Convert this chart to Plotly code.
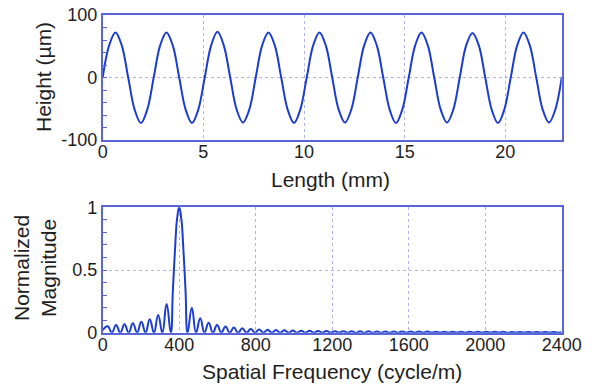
import plotly.graph_objects as go
from plotly.subplots import make_subplots

# ---------------- data ----------------
length_step_mm = 0.3167
height_um = [
    0, 51, 72, 51, 0, -51, -73, -51,
    0, 51, 72, 51, 0, -51, -73, -51,
    0, 51, 73, 51, 0, -51, -72, -51,
    0, 51, 72, 51, 0, -51, -73, -51,
    0, 51, 72, 51, 0, -51, -72, -51,
    0, 51, 72, 51, 0, -51, -73, -51,
    0, 51, 72, 51, 0, -51, -72, -51,
    0, 51, 71, 51, 0, -51, -73, -51,
    0, 51, 72, 51, 0, -51, -72, -51,
    0,
]
length_mm = [i * length_step_mm for i in range(len(height_um))]

# Bottom panel: normalized magnitude spectrum (lobe peaks and zeros)
freq_cpm = [
    0, 26, 48, 70, 92, 114, 136, 158, 180, 202, 224, 246, 268, 290, 312, 334, 356,
    367, 378, 389, 400, 411, 422, 433, 444,
    466, 488, 510, 532, 554, 576, 598, 620, 642, 664, 686, 708, 730, 752, 774, 796,
    818, 840, 862, 884, 906, 928, 950, 972, 994, 1016, 1038, 1060, 1082, 1104, 1126,
    1148, 1170, 1192, 1214, 1236, 1258, 1280, 1302, 1324, 1346, 1368, 1390, 1412,
    1434, 1456, 1478, 1500, 1522, 1544, 1566, 1588, 1610, 1632, 1654, 1676, 1698,
    1720, 1742, 1764, 1786, 1808, 1830, 1852, 1874, 1896, 1918, 1940, 1962, 1984,
    2006, 2028, 2050, 2072, 2094, 2116, 2138, 2160, 2182, 2204, 2226, 2248, 2270,
    2292, 2314, 2336, 2358, 2380, 2400,
]
magnitude = [
    0.02, 0.052, 0, 0.062, 0, 0.068, 0, 0.076, 0, 0.088, 0, 0.108, 0, 0.142, 0, 0.228, 0,
    0.34, 0.66, 0.91, 1.0, 0.91, 0.66, 0.34, 0,
    0.198, 0, 0.115, 0, 0.08, 0, 0.062, 0, 0.05, 0, 0.041, 0, 0.035, 0, 0.03, 0,
    0.026, 0, 0.023, 0, 0.021, 0, 0.019, 0, 0.017, 0, 0.016, 0, 0.015, 0, 0.014,
    0, 0.013, 0, 0.012, 0, 0.012, 0, 0.011, 0, 0.011, 0, 0.011, 0,
    0.010, 0, 0.010, 0, 0.010, 0, 0.009, 0, 0.009, 0, 0.009, 0, 0.009,
    0, 0.008, 0, 0.008, 0, 0.008, 0, 0.008, 0, 0.007, 0, 0.007, 0,
    0.007, 0, 0.007, 0, 0.007, 0, 0.006, 0, 0.006, 0, 0.006, 0, 0.006,
    0, 0.006, 0, 0.006, 0, 0.004,
]

top_xticks = [0, 5, 10, 15, 20]
top_yticks = [-100, 0, 100]
top_ylabels = ["-100", "0", "100"]
bot_xticks = [0, 400, 800, 1200, 1600, 2000, 2400]
bot_yticks = [0, 0.5, 1]
bot_ylabels = ["0", "0.5", "1"]

# ---------------- style ----------------
W, H = 602, 389
LINE = "#1c3cd0"
FRAME = "#5a66d8"
GRID = "rgba(130,140,225,0.65)"
TXT = "#1e1e1e"
FONT = "Liberation Sans, Arial, sans-serif"

fig = make_subplots(rows=2, cols=1)
fig.add_trace(go.Scatter(x=length_mm, y=height_um, mode="lines",
                         line=dict(color=LINE, width=2, shape="spline", smoothing=1.0),
                         showlegend=False), row=1, col=1)
fig.add_trace(go.Scatter(x=freq_cpm, y=magnitude, mode="lines",
                         line=dict(color=LINE, width=2, shape="spline", smoothing=1.3),
                         showlegend=False), row=2, col=1)

def px_x(a, b):
    return [a / W, b / W]

def px_y(top, bottom):
    return [1 - bottom / H, 1 - top / H]

common_axis = dict(showline=True, linecolor=FRAME, linewidth=1.5, mirror=True,
                   showgrid=True, gridcolor=GRID, griddash="dot", gridwidth=1,
                   zeroline=False, automargin=False,
                   tickfont=dict(family=FONT, size=18, color=TXT))

fig.update_xaxes(**common_axis)
fig.update_yaxes(**common_axis)

fig.update_layout(
    xaxis=dict(domain=px_x(102.7, 561.7), range=[0, 22.8], tickvals=top_xticks,
               ticks="", anchor="y", ticklabelstandoff=-5),
    yaxis=dict(domain=px_y(15, 140), range=[-100, 100], tickvals=top_yticks,
               ticktext=top_ylabels,
               ticks="inside", ticklen=5, tickcolor=FRAME,
               minor=dict(dtick=20, tick0=0, ticks="inside", ticklen=5, tickcolor=FRAME,
                          showgrid=False), anchor="x"),
    xaxis2=dict(domain=px_x(102.7, 561.7), range=[0, 2400], tickvals=bot_xticks,
                ticks="", anchor="y2", ticklabelstandoff=-5),
    yaxis2=dict(domain=px_y(207.3, 332.7), range=[0, 1], tickvals=bot_yticks,
                ticktext=bot_ylabels,
                ticks="inside", ticklen=5, tickcolor=FRAME,
                minor=dict(dtick=0.1, tick0=0, ticks="inside", ticklen=5, tickcolor=FRAME,
                           showgrid=False), anchor="x2"),
    width=W, height=H,
    margin=dict(l=0, r=0, t=0, b=0, autoexpand=False),
    paper_bgcolor="white", plot_bgcolor="white",
    font=dict(family=FONT, color=TXT),
)

title_font = dict(family=FONT, size=21, color=TXT)
fig.add_annotation(text="Height (µm)", x=43 / W, y=1 - 77 / H, xref="paper", yref="paper",
                   textangle=-90, showarrow=False, font=title_font,
                   xanchor="center", yanchor="middle")
fig.add_annotation(text="Length (mm)", x=330 / W, y=1 - 179 / H, xref="paper", yref="paper",
                   showarrow=False, font=title_font, xanchor="center", yanchor="middle")
fig.add_annotation(text="Normalized<br>Magnitude", x=35 / W, y=1 - 268 / H, xref="paper",
                   yref="paper", textangle=-90, showarrow=False, font=title_font,
                   xanchor="center", yanchor="middle")
fig.add_annotation(text="Spatial Frequency (cycle/m)", x=332 / W, y=1 - 371 / H,
                   xref="paper", yref="paper", showarrow=False, font=title_font,
                   xanchor="center", yanchor="middle")

fig.write_html("out.html")
